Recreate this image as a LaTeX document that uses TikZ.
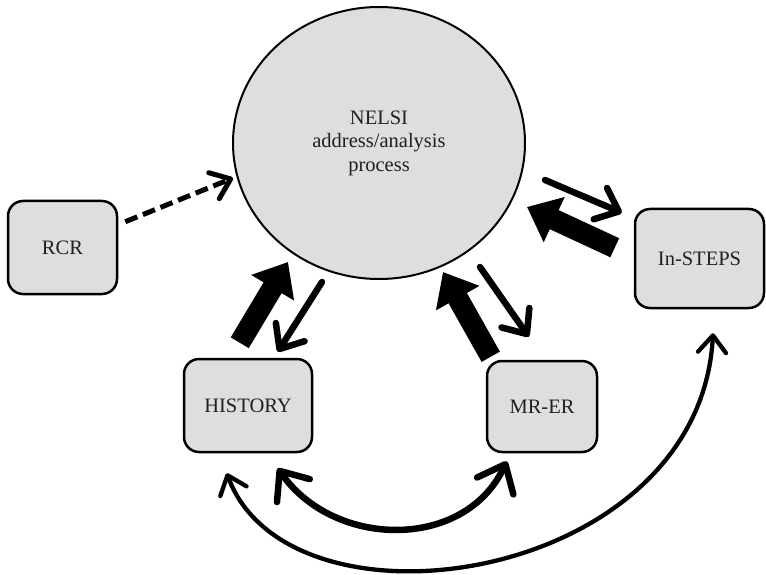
\documentclass[tikz,border=0pt]{standalone}
\usepackage{fontspec}
\setmainfont{Liberation Serif}
\usepackage{xcolor}
\usepackage{tikz}
\usetikzlibrary{calc}
\usetikzlibrary{arrows.meta}
\usetikzlibrary{shapes.geometric}
\definecolor{boxgray}{RGB}{221,222,224}
\definecolor{inkgray}{RGB}{35,31,32}
\begin{document}
\begin{tikzpicture}[x=1pt,y=1pt,
	txt/.style={font=\fontsize{20.5}{23.5}\selectfont,text=inkgray},
	box/.style={txt,draw=black,line width=2.5pt,rounded corners=15pt,fill=boxgray,inner sep=0pt},
	bigarrow/.style={line width=21pt,-{Triangle[length=30pt,width=48pt]}},
	thinarrow/.style={line width=6.5pt,line cap=round,-{Straight Barb[length=20pt,width=34pt,round]}},
	dasharrow/.style={line width=5pt,dash pattern=on 13pt off 6pt,-{Straight Barb[length=18pt,width=28pt,round]}},
	bentarrow/.style={line width=6.5pt,{Straight Barb[length=24pt,width=40pt,round]}-{Straight Barb[length=24pt,width=40pt,round]}},
	longarrow/.style={line width=4.3pt,{Straight Barb[length=17pt,width=28pt,round]}-{Straight Barb[length=17pt,width=28pt,round]}}]
	\useasboundingbox (0,0) rectangle (766,574);
	
	%process circle
	\node[ellipse,draw,line width=2pt,fill=boxgray,minimum width=292pt,minimum height=272pt,align=center,txt] (nelsi) at (379,431) {NELSI\\address/analysis\\process};
	
	%boxes
	\node[box,minimum width=109pt,minimum height=93pt] (rcr) at (62.5,326.5) {RCR};
	\node[box,minimum width=129pt,minimum height=99pt] (insteps) at (699.5,315.5) {In-STEPS};
	\node[box,minimum width=128pt,minimum height=93pt] (hist) at (248,168.5) {HISTORY};
	\node[box,minimum width=110pt,minimum height=91pt] (mrer) at (542,167.5) {MR-ER};
	
	%RCR
	\draw[dasharrow] ([xshift=7pt,yshift=-22pt]rcr.north east) -- ([xshift=-146pt,yshift=-35pt]nelsi.center);
	
	%In-STEPS
	\draw[thinarrow] ([xshift=166pt,yshift=-37pt]nelsi.center) -- ([xshift=-12pt,yshift=-5pt]insteps.north west);
	\draw[bigarrow] ([xshift=-19pt,yshift=-40pt]insteps.north west) -- ([xshift=148pt,yshift=-64pt]nelsi.center);
	
	%HISTORY
	\draw[bigarrow] ([xshift=57pt,yshift=15pt]hist.north west) -- ([xshift=-91pt,yshift=-119pt]nelsi.center);
	\draw[thinarrow] ([xshift=-57pt,yshift=-139pt]nelsi.center) -- ([xshift=95pt,yshift=6pt]hist.north west);
	
	%MR-ER
	\draw[bigarrow] ([xshift=5pt,yshift=3pt]mrer.north west) -- ([xshift=64pt,yshift=-129pt]nelsi.center);
	\draw[thinarrow] ([xshift=101pt,yshift=-124pt]nelsi.center) -- ([xshift=43pt,yshift=23pt]mrer.north west);
	
	%bottom links
	\draw[bentarrow] ([xshift=95pt,yshift=-15pt]hist.south west) to[out=-55,in=-115,looseness=1.1] ([xshift=21pt,yshift=-8pt]mrer.south west);
	\draw[longarrow] ([xshift=44pt,yshift=-20pt]hist.south west) .. controls (290,-70) and (700,-10) .. ([xshift=13.5pt,yshift=-24pt]insteps.south);
\end{tikzpicture}
\end{document}
